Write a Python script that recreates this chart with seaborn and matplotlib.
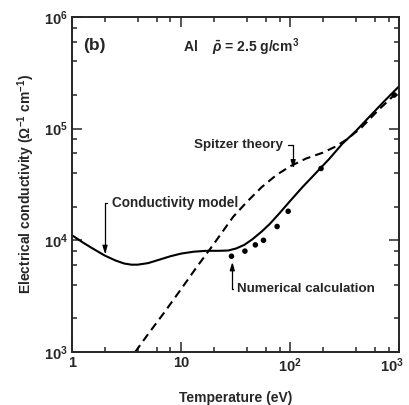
import numpy as np
import pandas as pd
import matplotlib
matplotlib.use("Agg")
import matplotlib.pyplot as plt
import matplotlib.ticker as mtick
import matplotlib.transforms as mtrans
import seaborn as sns

# conductivity model (solid curve)
model_temp = [1, 1.25, 1.5, 2, 2.5, 3, 3.5, 4, 5, 6, 8, 10, 13, 17, 22, 27, 32,
              38, 45, 55, 65, 80, 100, 130, 170, 230, 300, 400, 550, 750, 1000]
model_sigma = [1.11e4, 9.6e3, 8.6e3, 7.3e3, 6.6e3, 6.2e3, 6.05e3, 6.05e3, 6.25e3,
               6.6e3, 7.2e3, 7.6e3, 7.9e3, 8.05e3, 8.05e3, 8.1e3, 8.45e3, 9.1e3,
               1.02e4, 1.2e4, 1.4e4, 1.75e4, 2.25e4, 3.0e4, 3.95e4, 5.4e4, 7.3e4,
               9.5e4, 1.32e5, 1.81e5, 2.4e5]

# Spitzer theory (dashed curve)
spitzer_temp = [3.8, 5, 7, 10, 14, 20, 30, 40, 55, 75, 100, 140, 200, 260, 330,
                450, 650, 1000]
spitzer_sigma = [1.0e3, 1.45e3, 2.25e3, 3.65e3, 5.8e3, 9.3e3, 1.62e4, 2.2e4, 3.0e4,
                 3.85e4, 4.6e4, 5.4e4, 6.1e4, 6.9e4, 8.0e4, 1.02e5, 1.48e5, 2.2e5]

# numerical calculation (dots)
numeric_temp = [29, 38.5, 48, 57, 76, 96, 192, 900]
numeric_sigma = [7.2e3, 8.0e3, 9.1e3, 1.0e4, 1.33e4, 1.82e4, 4.4e4, 2.0e5]

x_ticks = [1, 10, 100, 1000]
x_ticklabels = ['1', '10', r'$\mathbf{10^2}$', r'$\mathbf{10^3}$']
y_ticks = [1e3, 1e4, 1e5, 1e6]
y_ticklabels = [r'$\mathbf{10^3}$', r'$\mathbf{10^4}$', r'$\mathbf{10^5}$', r'$\mathbf{10^6}$']

sns.set_style('ticks')
plt.rcParams['font.family'] = ['Liberation Sans', 'DejaVu Sans']
plt.rcParams['font.weight'] = 'bold'
plt.rcParams['mathtext.fontset'] = 'custom'
plt.rcParams['mathtext.rm'] = 'Liberation Sans:bold'
plt.rcParams['mathtext.bf'] = 'Liberation Sans:bold'
plt.rcParams['mathtext.it'] = 'Liberation Sans:bold:italic'

model_df = pd.DataFrame({'T': model_temp, 'sigma': model_sigma})
spitzer_df = pd.DataFrame({'T': spitzer_temp, 'sigma': spitzer_sigma})
numeric_df = pd.DataFrame({'T': numeric_temp, 'sigma': numeric_sigma})

fig = plt.figure(figsize=(4.09, 4.05), dpi=100)
ax = fig.add_axes([0.176, 0.131, 0.8, 0.827])
ax.set_xscale('log')
ax.set_yscale('log')

sns.lineplot(data=model_df, x='T', y='sigma', ax=ax, color='black', lw=1.5)
sns.lineplot(data=spitzer_df, x='T', y='sigma', ax=ax, color='black', lw=1.5,
             linestyle=(0, (4, 2.5)))
sns.scatterplot(data=numeric_df, x='T', y='sigma', ax=ax, color='black', s=16,
                edgecolor='none')

ax.set_xlim(1, 1000)
ax.set_ylim(1e3, 1e6)
ax.set_xticks(x_ticks, labels=x_ticklabels)
ax.set_yticks(y_ticks, labels=y_ticklabels)
ax.xaxis.set_minor_locator(mtick.LogLocator(base=10, subs=(2, 4, 6, 8)))
ax.yaxis.set_minor_locator(mtick.LogLocator(base=10, subs=(2, 4, 6, 8)))
ax.xaxis.set_minor_formatter(mtick.NullFormatter())
ax.yaxis.set_minor_formatter(mtick.NullFormatter())
ax.tick_params(which='both', direction='in', top=True, right=True, width=1.1,
               labelsize=10.5, pad=3)
ax.tick_params(which='major', length=7)
ax.tick_params(which='minor', length=3.5)
for sp in ax.spines.values():
    sp.set_linewidth(1.4)

# nudge the last x tick label so it stays inside the figure
last = ax.get_xticklabels()[-1]
last.set_transform(last.get_transform() +
                   mtrans.ScaledTranslation(-5 / 72, 0, fig.dpi_scale_trans))

ax.set_xlabel('Temperature (eV)', fontsize=10, fontweight='bold', labelpad=12)
ax.set_ylabel(r'Electrical conductivity ($\Omega^{-1}$ cm$^{-1}$)', fontsize=10,
              fontweight='bold', labelpad=5)

ax.text(0.067, 0.916, '(b)', transform=ax.transAxes, fontsize=12.5,
        fontweight='bold', ha='center', va='center')
ax.text(0.517, 0.910, r'Al    $\bar{\rho}$ = 2.5 g/cm$^3$', transform=ax.transAxes,
        fontsize=10, fontweight='bold', ha='center', va='center')

arrow = dict(arrowstyle='-|>,head_length=0.5,head_width=0.15', color='black',
             lw=0.9, shrinkA=1, shrinkB=0)
ax.annotate('Conductivity model', xy=(2.01, 7.5e3), xytext=(2.33, 2.16e4),
            fontsize=9.8, fontweight='bold', ha='left', va='center',
            arrowprops=dict(arrow, relpos=(0, 0.5),
                            connectionstyle='angle,angleA=0,angleB=90,rad=0'))
ax.annotate('Spitzer theory', xy=(106.6, 4.4e4), xytext=(86.4, 7.1e4),
            fontsize=9.6, fontweight='bold', ha='right', va='center',
            arrowprops=dict(arrow, relpos=(1, 0.5),
                            connectionstyle='angle,angleA=0,angleB=90,rad=0'))
ax.annotate('Numerical calculation', xy=(29.5, 6.4e3), xytext=(32.7, 3.67e3),
            fontsize=9.6, fontweight='bold', ha='left', va='center',
            arrowprops=dict(arrow, relpos=(0, 0.5),
                            connectionstyle='angle,angleA=0,angleB=90,rad=0'))

fig.savefig('out.png', dpi=100)
